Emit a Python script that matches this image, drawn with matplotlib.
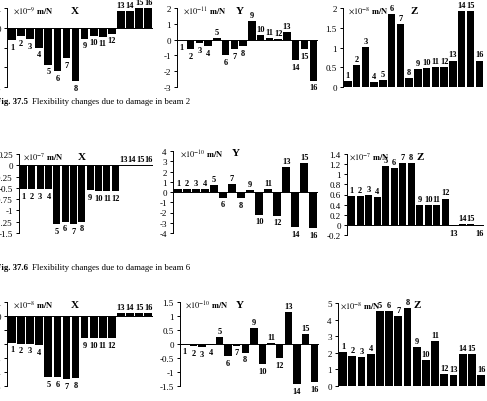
import matplotlib
matplotlib.use("Agg")
import matplotlib.pyplot as plt

plt.rcParams['font.family'] = ['Liberation Serif', 'DejaVu Serif']
plt.rcParams['mathtext.fontset'] = 'stix'
plt.rcParams['axes.unicode_minus'] = False

W, H = 487, 402
bars = list(range(1, 17))

# beam 2 (Fig. 37.5)
b2_x = [-0.62, -0.44, -0.59, -1.0, -1.87, -2.18, -1.53, -2.7,
        -0.55, -0.4, -0.45, -0.3, 0.86, 0.86, 0.99, 0.99]
b2_y = [-0.05, -0.6, -0.2, -0.4, 0.1, -1.0, -0.6, -0.4,
        1.2, 0.3, 0.08, 0.02, 0.5, -1.3, -0.6, -2.6]
b2_z = [0.16, 0.56, 1.02, 0.12, 0.17, 1.85, 1.6, 0.22,
        0.46, 0.47, 0.5, 0.5, 0.67, 1.93, 1.93, 0.67]

# beam 6 (Fig. 37.6)
b6_x = [-0.53, -0.53, -0.53, -0.53, -1.3, -1.25, -1.3, -1.25,
        -0.55, -0.57, -0.57, -0.58, 0.012, 0.012, 0.012, 0.012]
b6_y = [0.3, 0.3, 0.3, 0.3, 0.7, -0.55, 0.8, -0.6,
        0.2, -2.2, 0.3, -2.3, 2.45, -3.4, 2.8, -3.5]
b6_z = [0.57, 0.57, 0.59, 0.55, 1.17, 1.12, 1.22, 1.22,
        0.39, 0.39, 0.40, 0.52, -0.03, 0.025, 0.025, -0.03]

# third beam
b3_x = [-1.9, -1.98, -1.98, -2.1, -4.35, -4.35, -4.5, -4.42,
        -1.58, -1.58, -1.58, -1.58, 0.2, 0.2, 0.2, 0.2]
b3_y = [-0.02, -0.07, -0.1, -0.04, 0.24, -0.43, -0.06, -0.31,
        0.56, -0.73, 0.04, -0.51, 1.13, -1.43, 0.37, -1.35]
b3_z = [2.04, 1.78, 1.74, 1.94, 4.54, 4.5, 4.2, 4.68,
        2.32, 1.58, 2.72, 0.74, 0.68, 1.92, 1.92, 0.66]

ticks_b2_x = [1, 0, -1, -2, -3]
ticks_b2_y = [2, 1, 0, -1, -2, -3]
ticks_b2_z = [2, 1.5, 1, 0.5, 0]
ticks_b6_x = [0.25, 0, -0.25, -0.5, -0.75, -1, -1.25, -1.5]
ticks_b6_y = [4, 3, 2, 1, 0, -1, -2, -3, -4]
ticks_b6_z = [1.4, 1.2, 1, 0.8, 0.6, 0.4, 0.2, 0, -0.2]
ticks_b3_x = [1, 0, -1, -2, -3, -4, -5]
ticks_b3_y = [1.5, 1, 0.5, 0, -0.5, -1, -1.5]
ticks_b3_z = [5, 4, 3, 2, 1, 0]

fig = plt.figure(figsize=(W / 100, H / 100), dpi=100)


def panel(axis_x, right_px, top_px, bottom_px, vals, ticks, unit, unit_x, title, title_x):
    ppu = (right_px - axis_x) / (16.425 - 0.45)
    ax = fig.add_axes([axis_x / W, 1 - bottom_px / H, 16.05 * ppu / W, (bottom_px - top_px) / H])
    ax.bar(bars, vals, width=0.85, color='black')
    ax.axhline(0, color='black', lw=0.7)
    ax.set_xlim(0.45, 16.5)
    ax.set_ylim(min(ticks), max(ticks))
    ax.set_yticks(ticks)
    ax.set_yticklabels(['%g' % t for t in ticks])
    ax.set_xticks([])
    for s in ['top', 'right', 'bottom']:
        ax.spines[s].set_visible(False)
    ax.spines['left'].set_linewidth(0.7)
    ax.tick_params(axis='y', direction='out', length=2.5, width=0.7, labelsize=6.5, pad=2)
    ax.patch.set_alpha(0)
    for b, v in zip(bars, vals):
        if v >= 0:
            ax.annotate(str(b), (b, v), xytext=(0, 1.5), textcoords='offset points',
                        ha='center', va='bottom', fontsize=6, fontweight='bold')
        else:
            ax.annotate(str(b), (b, v), xytext=(0, -2), textcoords='offset points',
                        ha='center', va='top', fontsize=6, fontweight='bold')
    fig.text(unit_x / W, 1 - (top_px + 2) / H, unit, fontsize=6, va='center', ha='left')
    fig.text(title_x / W, 1 - (top_px + 2) / H, title, fontsize=8, fontweight='bold',
             va='center', ha='center')
    return ax


panel(7, 152, 9, 88, b2_x, ticks_b2_x, r'$\times 10^{-9}$ $\mathbf{m/N}$', 13, 'X', 75)
panel(177, 317, 9, 88, b2_y, ticks_b2_y, r'$\times 10^{-11}$ $\mathbf{m/N}$', 183, 'Y', 240)
panel(343, 483, 9, 88, b2_z, ticks_b2_z, r'$\times 10^{-8}$ $\mathbf{m/N}$', 348, 'Z', 414)

panel(19, 152, 155, 234, b6_x, ticks_b6_x, r'$\times 10^{-7}$ $\mathbf{m/N}$', 23, 'X', 82)
panel(173, 317, 152, 234, b6_y, ticks_b6_y, r'$\times 10^{-10}$ $\mathbf{m/N}$', 180, 'Y', 236)
panel(347, 483, 155, 236, b6_z, ticks_b6_z, r'$\times 10^{-7}$ $\mathbf{m/N}$', 349, 'Z', 420)

panel(7, 152, 303, 387, b3_x, ticks_b3_x, r'$\times 10^{-8}$ $\mathbf{m/N}$', 13, 'X', 75)
panel(180, 318, 303, 387, b3_y, ticks_b3_y, r'$\times 10^{-10}$ $\mathbf{m/N}$', 185, 'Y', 240)
panel(338, 485, 304, 387, b3_z, ticks_b3_z, r'$\times 10^{-8}$ $\mathbf{m/N}$', 340, 'Z', 417)

# captions
fig.text(-4 / W, 1 - 102 / H, 'Fig. 37.5', fontsize=6.3, fontweight='bold', va='center')
fig.text(32 / W, 1 - 102 / H, 'Flexibility changes due to damage in beam 2', fontsize=6.3, va='center')
fig.text(-4 / W, 1 - 268 / H, 'Fig. 37.6', fontsize=6.3, fontweight='bold', va='center')
fig.text(32 / W, 1 - 268 / H, 'Flexibility changes due to damage in beam 6', fontsize=6.3, va='center')

fig.savefig('out.png', dpi=100)
